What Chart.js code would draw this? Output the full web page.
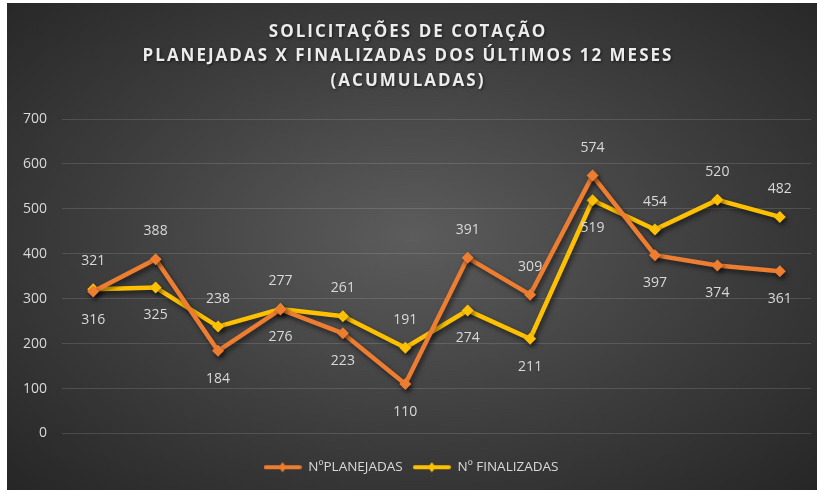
<!DOCTYPE html>
<html>
<head>
<meta charset="utf-8">
<script src="https://cdn.jsdelivr.net/npm/chart.js@4.4.0/dist/chart.umd.min.js"></script>
<style>
    html, body { margin: 0; padding: 0; background: #ffffff; }
    #wrap {
        position: absolute;
        left: 7px;
        top: 3px;
        width: 810px;
        height: 487px;
        background: radial-gradient(ellipse at 50% 48%, #5c5c5c 0%, #3d3d3d 55%, #262626 100%);
    }
</style>
</head>
<body>
<div id="wrap"><canvas id="chart" width="810" height="487"></canvas></div>
<script>
// chart data
const months = ['1', '2', '3', '4', '5', '6', '7', '8', '9', '10', '11', '12'];
const planejadas = [316, 388, 184, 276, 223, 110, 391, 309, 574, 397, 374, 361];
const finalizadas = [321, 325, 238, 277, 261, 191, 274, 211, 519, 454, 520, 482];
const yTicks = [0, 100, 200, 300, 400, 500, 600, 700];
const titleLines = [
    'SOLICITAÇÕES DE COTAÇÃO',
    'PLANEJADAS X FINALIZADAS DOS ÚLTIMOS 12 MESES',
    '(ACUMULADAS)'
];
const seriesNames = ['NºPLANEJADAS', 'Nº FINALIZADAS'];

const ORANGE = '#ED7D31';
const YELLOW = '#FFC000';
const TEXT = '#d9d9d9';
const FONT = '"Open Sans", "Noto Sans", sans-serif';

// legend marker: short line with a diamond in the middle
function legendMarker(color) {
    const c = document.createElement('canvas');
    c.width = 38;
    c.height = 12;
    const g = c.getContext('2d');
    g.strokeStyle = color;
    g.lineWidth = 4;
    g.lineCap = 'round';
    g.beginPath();
    g.moveTo(2, 6);
    g.lineTo(36, 6);
    g.stroke();
    g.fillStyle = color;
    g.beginPath();
    g.moveTo(19, 1);
    g.lineTo(23, 6);
    g.lineTo(19, 11);
    g.lineTo(15, 6);
    g.closePath();
    g.fill();
    return c;
}

// title drawn by hand so it can be letter spaced
const spacedTitle = {
    id: 'spacedTitle',
    afterDraw(chart) {
        const ctx = chart.ctx;
        ctx.save();
        ctx.font = 'bold 17px ' + FONT;
        ctx.letterSpacing = '2px';
        ctx.fillStyle = '#ececec';
        ctx.textAlign = 'center';
        ctx.textBaseline = 'middle';
        ctx.shadowColor = 'rgba(0, 0, 0, 0.6)';
        ctx.shadowBlur = 3;
        ctx.shadowOffsetX = 1;
        ctx.shadowOffsetY = 1;
        titleLines.forEach((line, i) => {
            ctx.fillText(line, chart.width / 2 - 4, 29 + i * 24.5);
        });
        ctx.restore();
    }
};

// soft drop shadow under the lines
const lineShadow = {
    id: 'lineShadow',
    beforeDatasetsDraw(chart) {
        const ctx = chart.ctx;
        ctx.save();
        ctx.shadowColor = 'rgba(0, 0, 0, 0.55)';
        ctx.shadowBlur = 5;
        ctx.shadowOffsetX = 2;
        ctx.shadowOffsetY = 3;
    },
    afterDatasetsDraw(chart) {
        chart.ctx.restore();
    }
};

// value labels: higher value above its point, lower value below
const valueLabels = {
    id: 'valueLabels',
    afterDatasetsDraw(chart) {
        const ctx = chart.ctx;
        ctx.save();
        ctx.font = '14px ' + FONT;
        ctx.fillStyle = TEXT;
        ctx.textAlign = 'center';
        ctx.textBaseline = 'middle';
        chart.data.datasets.forEach((ds, di) => {
            const other = chart.data.datasets[1 - di].data;
            chart.getDatasetMeta(di).data.forEach((pt, i) => {
                const v = ds.data[i];
                const above = v >= other[i];
                ctx.fillText(String(v), pt.x, pt.y + (above ? -28 : 28));
            });
        });
        ctx.restore();
    }
};

new Chart(document.getElementById('chart'), {
    type: 'line',
    data: {
        labels: months,
        datasets: [{
            label: seriesNames[0],
            data: planejadas,
            borderColor: ORANGE,
            backgroundColor: ORANGE,
            borderWidth: 4.5,
            pointStyle: 'rectRot',
            pointRadius: 6,
            pointBorderWidth: 0,
            pointBackgroundColor: ORANGE,
            tension: 0
        }, {
            label: seriesNames[1],
            data: finalizadas,
            borderColor: YELLOW,
            backgroundColor: YELLOW,
            borderWidth: 4.5,
            pointStyle: 'rectRot',
            pointRadius: 6,
            pointBorderWidth: 0,
            pointBackgroundColor: YELLOW,
            tension: 0
        }]
    },
    options: {
        responsive: false,
        animation: false,
        layout: {
            padding: { top: 116, right: 2, bottom: 6, left: 0 }
        },
        plugins: {
            title: { display: false },
            tooltip: { enabled: false },
            legend: {
                position: 'bottom',
                labels: {
                    color: TEXT,
                    font: { family: FONT, size: 13.5 },
                    usePointStyle: true,
                    pointStyleWidth: 38,
                    padding: 10,
                    generateLabels: chart => chart.data.datasets.map((ds, i) => ({
                        text: ds.label,
                        fontColor: TEXT,
                        pointStyle: legendMarker(ds.borderColor),
                        lineWidth: 0,
                        strokeStyle: 'transparent',
                        fillStyle: 'transparent',
                        datasetIndex: i
                    }))
                }
            }
        },
        scales: {
            x: {
                offset: true,
                grid: { display: false },
                border: { display: false },
                ticks: { display: false },
                afterFit: scale => { scale.height = 17; }
            },
            y: {
                min: 0,
                max: 700,
                afterBuildTicks: scale => {
                    scale.ticks = yTicks.map(v => ({ value: v }));
                },
                afterFit: scale => { scale.width = 55; },
                grid: {
                    color: 'rgba(255, 255, 255, 0.13)',
                    lineWidth: 1,
                    drawTicks: false
                },
                border: { display: false },
                ticks: {
                    color: TEXT,
                    padding: 15,
                    font: { family: FONT, size: 14 }
                }
            }
        }
    },
    plugins: [spacedTitle, lineShadow, valueLabels]
});
</script>
</body>
</html>
